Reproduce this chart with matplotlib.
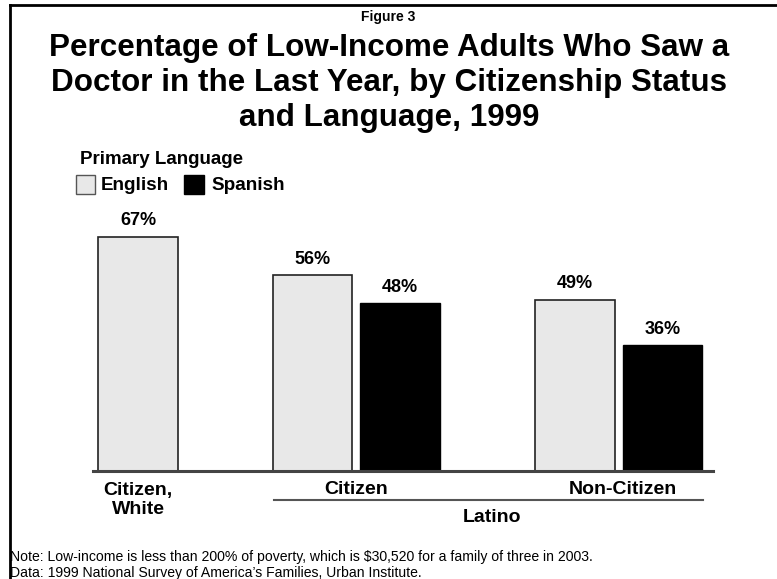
import matplotlib
matplotlib.use("Agg")
import matplotlib.pyplot as plt
import matplotlib.transforms as mtransforms
from matplotlib.patches import Rectangle
from matplotlib.lines import Line2D

plt.rcParams['font.family'] = ['Liberation Sans', 'DejaVu Sans']

# data
groups = ["Citizen,\nWhite", "Citizen", "Non-Citizen"]
english = [67, 56, 49]
spanish = [None, 48, 36]
series_names = ["English", "Spanish"]
legend_title = "Primary Language"
group_title = "Latino"
title = "Percentage of Low-Income Adults Who Saw a\nDoctor in the Last Year, by Citizenship Status\nand Language, 1999"
note_lines = ["Note: Low-income is less than 200% of poverty, which is $30,520 for a family of three in 2003.",
              "Data: 1999 National Survey of America\u2019s Families, Urban Institute."]

W, H = 777, 579
fig = plt.figure(figsize=(W / 100, H / 100), dpi=100)


def fx(px):
    return px / W


def fy(py):
    return (H - py) / H


# axes placed in pixel coordinates: baseline at y=471, x from 93 to 713
ax_l, ax_r, ax_b = 93, 713, 471.4
px_per_pct = 3.5
ymax = 70
unit = 80.0  # pixels per x unit (one bar width)
ax = fig.add_axes([fx(ax_l), fy(ax_b), (ax_r - ax_l) / W, ymax * px_per_pct / H])
ax.set_xlim(0, (ax_r - ax_l) / unit)
ax.set_ylim(0, ymax)
ax.axis("off")

eng_x = [0.5625, 2.745, 6.026]
spa_x = [None, 3.84, 7.118]
light = "#E8E8E8"
bw = 79.5 / unit
off = 16 / px_per_pct

for x, v in zip(eng_x, english):
    ax.bar(x, v, width=bw, color=light, edgecolor="#222222", linewidth=1.2)
    ax.text(x, v + off, f"{v}%", ha="center", va="center", fontsize=13, fontweight="bold")
for x, v in zip(spa_x, spanish):
    if v is None:
        continue
    ax.bar(x, v, width=bw, color="black", edgecolor="black", linewidth=1)
    ax.text(x, v + off, f"{v}%", ha="center", va="center", fontsize=13, fontweight="bold")

ax.axhline(0, color="#444444", linewidth=2.2, clip_on=False)

# category labels (x in data units, y in figure fraction)
tr = mtransforms.blended_transform_factory(ax.transData, fig.transFigure)
lbl_x = [eng_x[0], (eng_x[1] + spa_x[1]) / 2, (eng_x[2] + spa_x[2]) / 2 + 0.05]
lbl_y = [fy(500), fy(489), fy(489)]
for x, y, g in zip(lbl_x, lbl_y, groups):
    ax.text(x, y, g, transform=tr, ha="center", va="center", fontsize=14,
            fontweight="bold", linespacing=1.15)

fig.add_artist(Line2D([fx(274), fx(703)], [fy(500.3)] * 2, color="#555555", linewidth=1.5))
fig.text(fx(492), fy(517), group_title, ha="center", va="center", fontsize=14, fontweight="bold")

# legend
fig.text(fx(80), fy(160), legend_title, ha="left", va="center", fontsize=13.5, fontweight="bold")
fig.add_artist(Rectangle((fx(76), fy(194)), 19 / W, 19 / H, facecolor=light, edgecolor="#555555", linewidth=1))
fig.text(fx(101), fy(185), series_names[0], ha="left", va="center", fontsize=13.6, fontweight="bold")
fig.add_artist(Rectangle((fx(184), fy(194)), 20 / W, 19 / H, facecolor="black", edgecolor="black", linewidth=1))
fig.text(fx(211), fy(185), series_names[1], ha="left", va="center", fontsize=13.6, fontweight="bold")

# titles
fig.text(fx(388), fy(17), "Figure 3", ha="center", va="center", fontsize=10, fontweight="bold")
fig.text(fx(389), fy(83), title, ha="center", va="center", fontsize=22.6, fontweight="bold",
         linespacing=1.22)

# notes
fig.text(fx(10), fy(557), note_lines[0], ha="left", va="center", fontsize=10.1)
fig.text(fx(10), fy(573), note_lines[1], ha="left", va="center", fontsize=10.1)

# frame: top and left edges only
fig.add_artist(Line2D([fx(10), 1], [fy(5)] * 2, color="black", linewidth=2))
fig.add_artist(Line2D([fx(10)] * 2, [0, fy(5)], color="black", linewidth=2))

fig.savefig("out.png", dpi=100)
